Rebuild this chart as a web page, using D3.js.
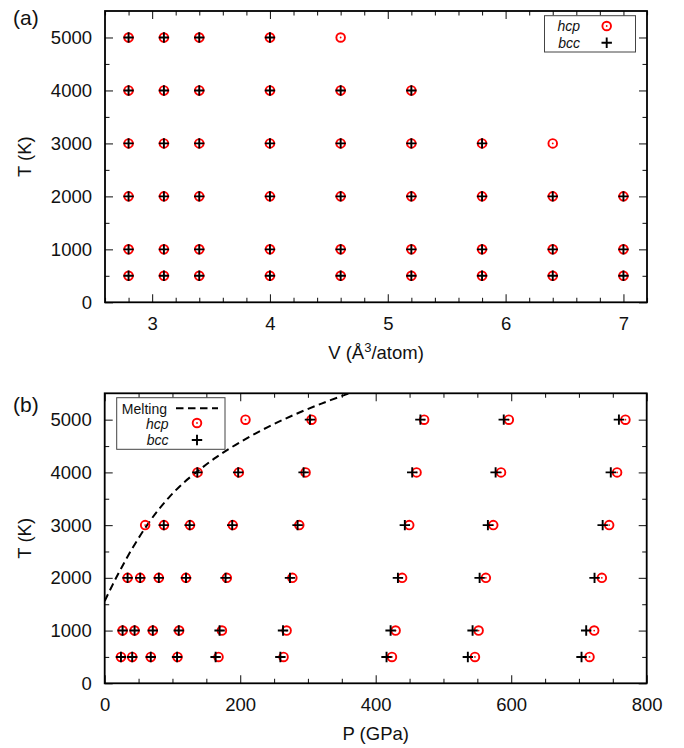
<!DOCTYPE html>
<html>
<head>
<meta charset="utf-8">
<script src="https://cdn.jsdelivr.net/npm/d3@7"></script>
<style>
  html, body { margin: 0; padding: 0; background: #fff; }
  svg { display: block; font-family: "Liberation Sans", Arial, Helvetica, sans-serif; }
</style>
</head>
<body>
<svg id="chart" width="684" height="748"></svg>
<script>
// ---- Panel (a): sampled (V, T) grid ----
const volumes = [2.8, 3.1, 3.4, 4.0, 4.6, 5.2, 5.8, 6.4, 7.0];
const temperatures = [500, 1000, 2000, 3000, 4000, 5000];
// number of volumes (from the smallest) sampled at each temperature
const hcpCountByT = [9, 9, 9, 8, 6, 5];
const bccCountByT = [9, 9, 9, 7, 6, 4];

// ---- Panel (b): pressures (GPa) at each temperature, ordered by volume ----
const hcpP500  = [715.6, 546.5, 424.0, 264.0, 168.0, 107.5, 68.0, 40.6, 24.0];
const hcpP1000 = [722.5, 551.9, 429.4, 268.5, 173.0, 109.9, 71.0, 44.1, 26.4];
const hcpP2000 = [733.8, 562.6, 439.0, 277.0, 180.3, 120.0, 79.9, 52.4, 33.8];
const hcpP3000 = [744.6, 573.5, 449.5, 287.2, 189.0, 126.0, 87.5, 59.7];
const hcpP4000 = [756.3, 585.0, 460.3, 296.5, 198.0, 137.0];
const hcpP5000 = [768.6, 596.5, 471.5, 305.3, 207.8];

const bccP500  = [703.8, 536.0, 416.0, 259.3, 163.7, 106.8, 68.0, 40.6, 24.0];
const bccP1000 = [710.7, 543.0, 422.0, 263.2, 169.6, 109.3, 71.0, 44.1, 26.4];
const bccP2000 = [723.0, 553.4, 432.8, 273.5, 178.4, 120.0, 79.9, 52.4, 33.8];
const bccP3000 = [735.0, 565.6, 443.0, 284.7, 188.2, 125.4, 87.2];
const bccP4000 = [747.0, 577.0, 453.9, 293.6, 197.0, 136.7];
const bccP5000 = [759.0, 589.0, 466.0, 303.0];

// melting curve (P in GPa, T in K)
const meltP = [0, 12, 25, 42, 60, 77, 95, 115, 136, 165, 200, 240, 280, 320, 360, 385];
const meltT = [1560, 1877, 2198, 2586, 2950, 3254, 3527, 3787, 4010, 4290, 4575, 4855, 5095, 5305, 5495, 5605];

// axis ticks
const vTicks = [3, 4, 5, 6, 7];
const tTicks = [0, 1000, 2000, 3000, 4000, 5000];
const pTicks = [0, 200, 400, 600, 800];

// ---- assemble point lists ----
const hcpA = [], bccA = [];
temperatures.forEach((t, i) => {
  volumes.slice(0, hcpCountByT[i]).forEach(v => hcpA.push([v, t]));
  volumes.slice(0, bccCountByT[i]).forEach(v => bccA.push([v, t]));
});
const hcpRowsB = [hcpP500, hcpP1000, hcpP2000, hcpP3000, hcpP4000, hcpP5000];
const bccRowsB = [bccP500, bccP1000, bccP2000, bccP3000, bccP4000, bccP5000];
const hcpB = [], bccB = [];
temperatures.forEach((t, i) => {
  hcpRowsB[i].forEach(p => hcpB.push([p, t]));
  bccRowsB[i].forEach(p => bccB.push([p, t]));
});
const meltB = meltP.map((p, i) => [p, meltT[i]]);

const svg = d3.select("#chart");
const FS = 18.5;
const MARK_R = 4.3, MARK_W = 1.9, PLUS = 5.2;

function range(a, b, s) { const r = []; for (let v = a; v <= b + 1e-9; v += s) r.push(+v.toFixed(6)); return r; }

function drawFrame(g, x, y, box, xMajor, xMinor, yMajor, yMinor, xFmt) {
  const w = box.x1 - box.x0, h = box.y1 - box.y0;
  const mk = (axis) => axis.tickSizeOuter(0);
  // bottom (labels)
  g.append("g").attr("transform", `translate(0,${box.y1})`)
    .call(mk(d3.axisBottom(x).tickValues(xMajor).tickSizeInner(-8).tickPadding(14.5).tickFormat(xFmt)));
  g.append("g").attr("transform", `translate(0,${box.y1})`)
    .call(mk(d3.axisBottom(x).tickValues(xMinor).tickSizeInner(-4.5).tickFormat("")));
  // top mirror
  g.append("g").attr("transform", `translate(0,${box.y0})`)
    .call(mk(d3.axisTop(x).tickValues(xMajor).tickSizeInner(-8).tickFormat("")));
  g.append("g").attr("transform", `translate(0,${box.y0})`)
    .call(mk(d3.axisTop(x).tickValues(xMinor).tickSizeInner(-4.5).tickFormat("")));
  // left (labels)
  g.append("g").attr("transform", `translate(${box.x0},0)`)
    .call(mk(d3.axisLeft(y).tickValues(yMajor).tickSizeInner(-8).tickPadding(13).tickFormat(d3.format("d"))));
  g.append("g").attr("transform", `translate(${box.x0},0)`)
    .call(mk(d3.axisLeft(y).tickValues(yMinor).tickSizeInner(-4.5).tickFormat("")));
  // right mirror
  g.append("g").attr("transform", `translate(${box.x1},0)`)
    .call(mk(d3.axisRight(y).tickValues(yMajor).tickSizeInner(-8).tickFormat("")));
  g.append("g").attr("transform", `translate(${box.x1},0)`)
    .call(mk(d3.axisRight(y).tickValues(yMinor).tickSizeInner(-4.5).tickFormat("")));

  g.selectAll(".domain").remove();
  g.selectAll(".tick line").attr("stroke", "#222").attr("stroke-width", 1.1);
  g.selectAll(".tick text").attr("font-size", FS).attr("fill", "#111")
    .attr("font-family", "'Liberation Sans', Arial, sans-serif");
  g.append("rect").attr("x", box.x0).attr("y", box.y0).attr("width", w).attr("height", h)
    .attr("fill", "none").attr("stroke", "#000").attr("stroke-width", 1.8);
}

function hcpMark(sel) {
  sel.append("circle").attr("r", MARK_R).attr("fill", "none").attr("stroke", "#f00").attr("stroke-width", MARK_W);
  sel.append("circle").attr("r", 0.9).attr("fill", "#f00");
}
function bccMark(sel) {
  sel.append("path").attr("d", `M${-PLUS},0H${PLUS}M0,${-PLUS}V${PLUS}`)
    .attr("stroke", "#000").attr("stroke-width", MARK_W).attr("fill", "none");
}
function drawPoints(g, pts, x, y, mark) {
  g.selectAll(null).data(pts).enter().append("g")
    .attr("transform", d => `translate(${x(d[0])},${y(d[1])})`)
    .call(mark);
}

// ================= Panel (a) =================
const boxA = { x0: 105, x1: 647, y0: 11, y1: 302.3 };
const xA = d3.scaleLinear().domain([2.6, 7.2]).range([boxA.x0, boxA.x1]);
const yA = d3.scaleLinear().domain([0, 5500]).range([boxA.y1, boxA.y0]);
const gA = svg.append("g");
drawFrame(gA, xA, yA, boxA, vTicks, range(2.6, 7.2, 0.2).filter(v => !vTicks.includes(v)),
  tTicks, range(500, 5000, 1000), d3.format("d"));
drawPoints(gA, hcpA, xA, yA, hcpMark);
drawPoints(gA, bccA, xA, yA, bccMark);

// legend (a)
const lgA = gA.append("g");
lgA.append("rect").attr("x", 544.5).attr("y", 15.7).attr("width", 91).attr("height", 36.3)
  .attr("fill", "#fff").attr("stroke", "#444").attr("stroke-width", 1);
lgA.append("text").attr("x", 580).attr("y", 31).attr("text-anchor", "end").attr("font-size", 14)
  .attr("font-style", "italic").attr("fill", "#111").text("hcp");
lgA.append("text").attr("x", 580).attr("y", 47.5).attr("text-anchor", "end").attr("font-size", 14)
  .attr("font-style", "italic").attr("fill", "#111").text("bcc");
lgA.append("g").attr("transform", "translate(606.7,26)").call(hcpMark);
lgA.append("g").attr("transform", "translate(606.7,42.7)").call(bccMark);

// titles (a)
svg.append("text").attr("x", 13).attr("y", 25).attr("font-size", 21).attr("fill", "#111").text("(a)");
svg.append("text").attr("transform", `translate(31,${(boxA.y0 + boxA.y1) / 2}) rotate(-90)`)
  .attr("text-anchor", "middle").attr("font-size", FS).attr("fill", "#111").text("T (K)");
const vt = svg.append("text").attr("x", (boxA.x0 + boxA.x1) / 2).attr("y", 359)
  .attr("text-anchor", "middle").attr("font-size", FS).attr("fill", "#111");
vt.append("tspan").text("V (Å");
vt.append("tspan").attr("dy", -7).attr("font-size", 13).text("3");
vt.append("tspan").attr("dy", 7).text("/atom)");

// ================= Panel (b) =================
const boxB = { x0: 104.7, x1: 646.7, y0: 393.3, y1: 683.3 };
const xB = d3.scaleLinear().domain([0, 800]).range([boxB.x0, boxB.x1]);
const yB = d3.scaleLinear().domain([0, 5500]).range([boxB.y1, boxB.y0]);
const gB = svg.append("g");
drawFrame(gB, xB, yB, boxB, pTicks, range(0, 800, 50).filter(v => !pTicks.includes(v)),
  tTicks, range(500, 5000, 1000), d3.format("d"));

// melting curve, clipped to the plot box
svg.append("clipPath").attr("id", "clipB").append("rect")
  .attr("x", boxB.x0).attr("y", boxB.y0).attr("width", boxB.x1 - boxB.x0).attr("height", boxB.y1 - boxB.y0);
gB.append("path").datum(meltB).attr("clip-path", "url(#clipB)")
  .attr("d", d3.line().x(d => xB(d[0])).y(d => yB(d[1])).curve(d3.curveCatmullRom))
  .attr("fill", "none").attr("stroke", "#000").attr("stroke-width", 2).attr("stroke-dasharray", "7.5,4.5");

drawPoints(gB, hcpB, xB, yB, hcpMark);
drawPoints(gB, bccB, xB, yB, bccMark);

// legend (b)
const lgB = gB.append("g");
lgB.append("rect").attr("x", 116.7).attr("y", 397.7).attr("width", 108.3).attr("height", 51.6)
  .attr("fill", "#fff").attr("stroke", "#444").attr("stroke-width", 1);
lgB.append("text").attr("x", 167).attr("y", 413.5).attr("text-anchor", "end").attr("font-size", 14)
  .attr("fill", "#111").text("Melting");
lgB.append("text").attr("x", 168.5).attr("y", 428.5).attr("text-anchor", "end").attr("font-size", 14)
  .attr("font-style", "italic").attr("fill", "#111").text("hcp");
lgB.append("text").attr("x", 168.5).attr("y", 445).attr("text-anchor", "end").attr("font-size", 14)
  .attr("font-style", "italic").attr("fill", "#111").text("bcc");
lgB.append("line").attr("x1", 176).attr("x2", 218).attr("y1", 408.3).attr("y2", 408.3)
  .attr("stroke", "#000").attr("stroke-width", 2).attr("stroke-dasharray", "7.5,4.5");
lgB.append("g").attr("transform", "translate(197,423)").call(hcpMark);
lgB.append("g").attr("transform", "translate(197,440)").call(bccMark);

// titles (b)
svg.append("text").attr("x", 13).attr("y", 412).attr("font-size", 21).attr("fill", "#111").text("(b)");
svg.append("text").attr("transform", `translate(31,${(boxB.y0 + boxB.y1) / 2}) rotate(-90)`)
  .attr("text-anchor", "middle").attr("font-size", FS).attr("fill", "#111").text("T (K)");
svg.append("text").attr("x", (boxB.x0 + boxB.x1) / 2).attr("y", 740)
  .attr("text-anchor", "middle").attr("font-size", FS).attr("fill", "#111").text("P (GPa)");
</script>
</body>
</html>
